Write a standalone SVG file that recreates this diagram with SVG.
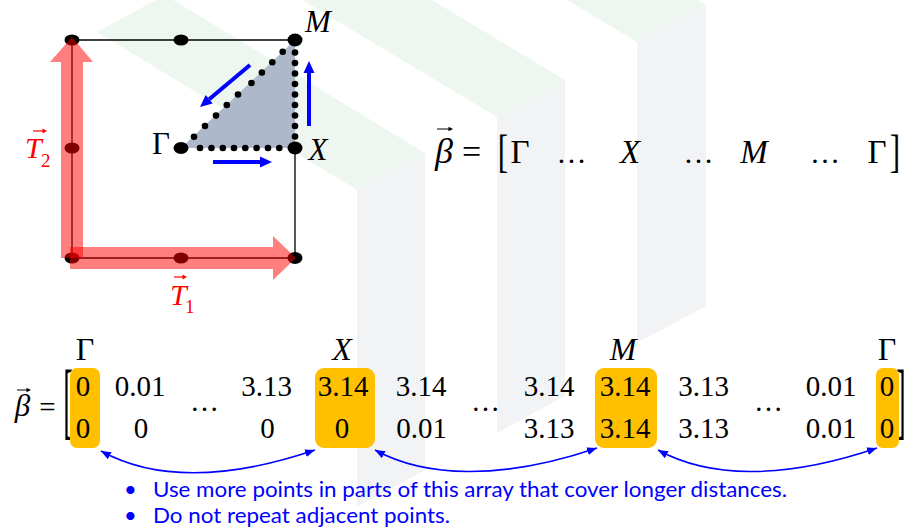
<svg xmlns="http://www.w3.org/2000/svg" width="906" height="529" viewBox="0 0 906 529">
<defs>
<style>
.wg{fill:#eef6f0}
.wb{fill:#f2f3f5}
.m{font-family:"Liberation Serif","Times New Roman",serif;fill:#000}
.i{font-style:italic}
.red{fill:#ff0000}
.c{text-anchor:middle}
.edge{stroke:#000;stroke-width:1.3;fill:none}
.big{fill:#000}
.sd{fill:#000}
.blue{fill:#0000ff}
.bshaft{stroke:#0000ff;stroke-width:4;fill:none}
.ra{fill:#ff0000;fill-opacity:0.5}
.hl{fill:#ffc000}
.conn{stroke:#0000ff;stroke-width:1.6;fill:none;marker-start:url(#ah);marker-end:url(#ah)}
.vec{stroke:#000;stroke-width:1;fill:none}
.bul{font-family:Lato,"Liberation Sans",sans-serif;font-size:22px;fill:#0000ff}
</style>
<marker id="ah" viewBox="0 0 10 8" refX="10" refY="4" markerWidth="10" markerHeight="8" markerUnits="userSpaceOnUse" orient="auto-start-reverse">
<path d="M0,0 L10,4 L0,8 z" fill="#0000ff"/>
</marker>
</defs>
<rect width="906" height="529" fill="#ffffff"/>
<g id="watermark">
<polygon class="wg" points="97,32 357,190 425,153 165,-5"/>
<polygon class="wg" points="302,0 497,117 565,80 432,0"/>
<polygon class="wg" points="567,0 637,42 706,5 698,0"/>
<polygon class="wb" points="357,190 425,153 425,470 357,507"/>
<polygon class="wb" points="497,117 565,80 565,396 497,433"/>
<polygon class="wb" points="637,42 706,5 706,306 637,343"/>
</g>
<g id="brillouin-zone">
<polygon points="181,148 295,148 295,40" fill="#adb9ca"/>
<path class="edge" d="M72,40 H295 M72,40 V258 H295 M295,148 V258"/>
<g id="dots-gx">
<circle class="sd" cx="200" cy="148" r="3.3"/>
<circle class="sd" cx="211.5" cy="148" r="3.3"/>
<circle class="sd" cx="222.8" cy="148" r="3.3"/>
<circle class="sd" cx="234" cy="148" r="3.3"/>
<circle class="sd" cx="245.3" cy="148" r="3.3"/>
<circle class="sd" cx="256.6" cy="148" r="3.3"/>
<circle class="sd" cx="268" cy="148" r="3.3"/>
<circle class="sd" cx="279.3" cy="148" r="3.3"/>
</g>
<g id="dots-xm">
<circle class="sd" cx="295" cy="52.5" r="3.3"/>
<circle class="sd" cx="295" cy="63" r="3.3"/>
<circle class="sd" cx="295" cy="73.5" r="3.3"/>
<circle class="sd" cx="295" cy="84" r="3.3"/>
<circle class="sd" cx="295" cy="94.5" r="3.3"/>
<circle class="sd" cx="295" cy="105" r="3.3"/>
<circle class="sd" cx="295" cy="115.5" r="3.3"/>
<circle class="sd" cx="295" cy="126" r="3.3"/>
<circle class="sd" cx="295" cy="136.5" r="3.3"/>
</g>
<g id="dots-mg">
<circle class="sd" cx="282.7" cy="51.7" r="3.3"/>
<circle class="sd" cx="272.3" cy="62.2" r="3.3"/>
<circle class="sd" cx="261.9" cy="72.6" r="3.3"/>
<circle class="sd" cx="251.5" cy="83" r="3.3"/>
<circle class="sd" cx="238" cy="94.5" r="3.3"/>
<circle class="sd" cx="226.8" cy="105" r="3.3"/>
<circle class="sd" cx="216" cy="115.6" r="3.3"/>
<circle class="sd" cx="205" cy="126" r="3.3"/>
<circle class="sd" cx="194" cy="136.7" r="3.3"/>
</g>
<ellipse class="big" cx="72" cy="40" rx="7.5" ry="5.5"/>
<ellipse class="big" cx="181" cy="40" rx="7.5" ry="5.5"/>
<ellipse class="big" cx="295" cy="40" rx="7.5" ry="6.5"/>
<ellipse class="big" cx="72" cy="148" rx="7.5" ry="5.5"/>
<ellipse class="big" cx="181" cy="148" rx="7.5" ry="6"/>
<ellipse class="big" cx="295" cy="148" rx="7.5" ry="6.5"/>
<ellipse class="big" cx="72" cy="258" rx="7.5" ry="5.5"/>
<ellipse class="big" cx="181" cy="258" rx="7.5" ry="5.5"/>
<ellipse class="big" cx="295" cy="258" rx="7.5" ry="6"/>
</g>
<g id="lattice-vectors">
<polygon class="ra" points="61,258 61,62 50,62 72,37 93,62 83,62 83,258"/>
<polygon class="ra" points="70,247 273,247 273,236 296,258 273,280 273,269 70,269"/>
</g>
<g id="path-arrows">
<path class="bshaft" d="M250,65 L209.2,99.3"/>
<polygon class="blue" points="200,107 212.7,103.5 205.7,95.1"/>
<path class="bshaft" d="M309,126 V72"/>
<polygon class="blue" points="309,61 303.5,73 314.5,73"/>
<path class="bshaft" d="M213,162 H260"/>
<polygon class="blue" points="272,162 260,156.5 260,167.5"/>
</g>
<g id="labels-top">
<text class="m c" x="161" y="154" font-size="31">Γ</text>
<text class="m i c" x="318" y="160" font-size="31">X</text>
<text class="m i c" x="318" y="32" font-size="31">M</text>
<g id="label-T2">
<text class="m i red" x="25" y="158" font-size="30">T</text>
<text class="m red" x="41" y="167" font-size="19">2</text>
<path d="M33,131 H44" stroke="#ff0000" stroke-width="1.2"/>
<polygon points="47,131 42.5,128.6 42.5,133.4" fill="#ff0000"/>
</g>
<g id="label-T1">
<text class="m i red" x="170" y="305" font-size="30">T</text>
<text class="m red" x="185" y="313" font-size="19">1</text>
<path d="M174,277 H184" stroke="#ff0000" stroke-width="1.2"/>
<polygon points="187,277 182.5,274.6 182.5,279.4" fill="#ff0000"/>
</g>
</g>
<g id="beta-symbolic">
<text class="m i c" x="444" y="163" font-size="36">β</text>
<path class="vec" d="M437,129 H450"/>
<polygon points="453,129 448.5,126.7 448.5,131.3" fill="#000"/>
<text class="m c" x="471.5" y="163" font-size="34">=</text>
<text class="m c" transform="translate(503,167) scale(1.3,1.95)" font-size="24">[</text>
<text class="m c" x="520" y="163" font-size="33">Γ</text>
<text class="m c" x="571.5" y="163" font-size="30">…</text>
<text class="m i c" x="630" y="163" font-size="33">X</text>
<text class="m c" x="698.5" y="163" font-size="30">…</text>
<text class="m i c" x="754" y="163" font-size="33">M</text>
<text class="m c" x="825" y="163" font-size="30">…</text>
<text class="m c" x="877" y="163" font-size="33">Γ</text>
<text class="m c" transform="translate(895,167) scale(1.3,1.95)" font-size="24">]</text>
</g>
<g id="beta-matrix">
<text class="m i c" x="22.5" y="416" font-size="31">β</text>
<path class="vec" d="M17,390 H28"/>
<polygon points="31,390 26.5,387.8 26.5,392.2" fill="#000"/>
<text class="m c" x="47.5" y="417" font-size="29">=</text>
<text class="m c" transform="translate(68,429) scale(1.3,3.8)" font-size="22">[</text>
<text class="m c" transform="translate(901,429) scale(1.3,3.8)" font-size="22">]</text>
<rect id="hl-gamma1" class="hl" x="70" y="368" width="30" height="80" rx="7"/>
<rect id="hl-x" class="hl" x="315" y="368" width="60" height="80" rx="9"/>
<rect id="hl-m" class="hl" x="595" y="368" width="62" height="80" rx="9"/>
<rect id="hl-gamma2" class="hl" x="876" y="368" width="23" height="80" rx="7"/>
<text class="m c" x="85" y="360" font-size="32">Γ</text>
<text class="m i c" x="342" y="360" font-size="32">X</text>
<text class="m i c" x="623" y="360" font-size="32">M</text>
<text class="m c" x="887" y="360" font-size="32">Γ</text>
<g font-size="29">
<text class="m c" x="83" y="396">0</text>
<text class="m c" x="140" y="396">0.01</text>
<text class="m c" x="266.5" y="396">3.13</text>
<text class="m c" x="343" y="396">3.14</text>
<text class="m c" x="421" y="396">3.14</text>
<text class="m c" x="549" y="396">3.14</text>
<text class="m c" x="625" y="396">3.14</text>
<text class="m c" x="703.5" y="396">3.13</text>
<text class="m c" x="831" y="396">0.01</text>
<text class="m c" x="887" y="396">0</text>
<text class="m c" x="83" y="438">0</text>
<text class="m c" x="141" y="438">0</text>
<text class="m c" x="267.5" y="438">0</text>
<text class="m c" x="342" y="438">0</text>
<text class="m c" x="421.5" y="438">0.01</text>
<text class="m c" x="549" y="438">3.13</text>
<text class="m c" x="625" y="438">3.14</text>
<text class="m c" x="703.5" y="438">3.13</text>
<text class="m c" x="831" y="438">0.01</text>
<text class="m c" x="887" y="438">0</text>
<text class="m c" x="204.5" y="411">…</text>
<text class="m c" x="485.5" y="411">…</text>
<text class="m c" x="768.5" y="411">…</text>
</g>
</g>
<g id="connectors">
<path class="conn" d="M101,451 C150,478 220,482 315,450"/>
<path class="conn" d="M375,450 C424,477 500,481 597,448"/>
<path class="conn" d="M658,450 C707,477 780,481 877,448"/>
</g>
<g id="notes">
<text class="bul" x="124" y="497" font-size="18">•</text>
<text class="bul" x="153" y="497" textLength="634" lengthAdjust="spacingAndGlyphs">Use more points in parts of this array that cover longer distances.</text>
<text class="bul" x="124" y="523" font-size="18">•</text>
<text class="bul" x="153" y="523" textLength="297" lengthAdjust="spacingAndGlyphs">Do not repeat adjacent points.</text>
</g>
</svg>
